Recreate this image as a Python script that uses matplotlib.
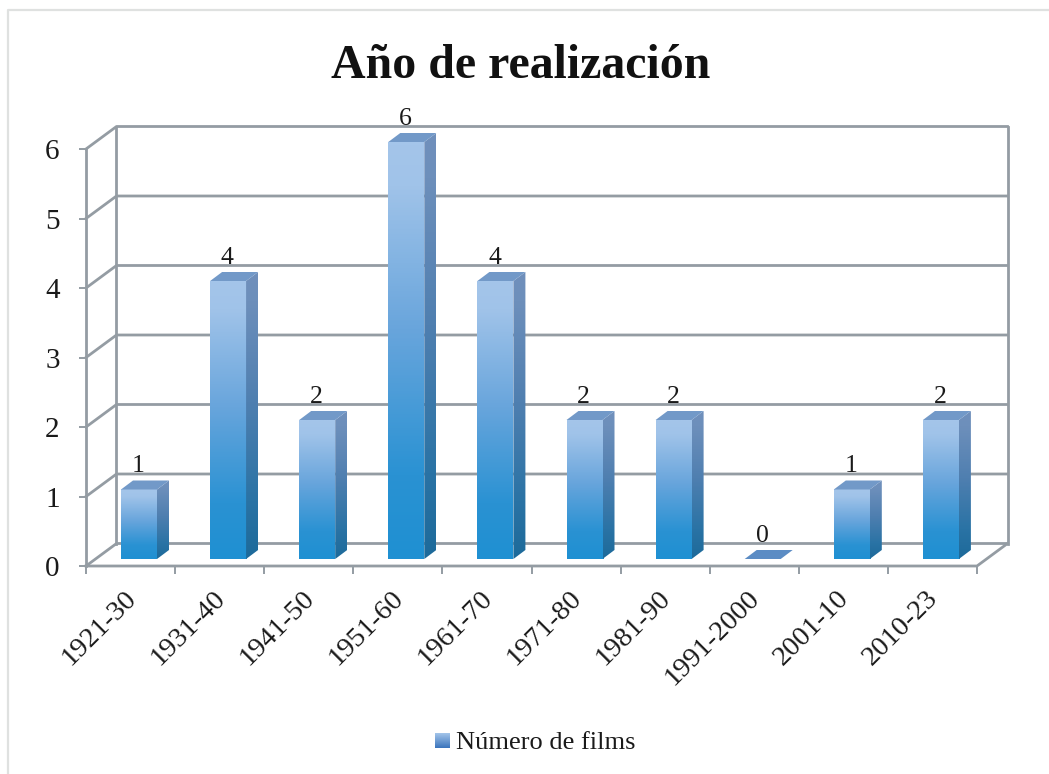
import numpy as np
import matplotlib
matplotlib.use("Agg")
import matplotlib.pyplot as plt
from matplotlib.patches import Polygon
from matplotlib.colors import LinearSegmentedColormap

categories = ["1921-30", "1931-40", "1941-50", "1951-60", "1961-70",
              "1971-80", "1981-90", "1991-2000", "2001-10", "2010-23"]
values = [1, 4, 2, 6, 4, 2, 2, 0, 1, 2]
yticks = [0, 1, 2, 3, 4, 5, 6]
title = "Año de realización"
legend_label = "Número de films"

W, H = 1049, 774
plt.rcParams['font.family'] = ['Liberation Serif', 'DejaVu Serif']
fig = plt.figure(figsize=(W / 100, H / 100), dpi=100)

# plot axes: front plane from x=86..977 px, y=566..149 px
L, R, B, T = 86, 977, 566, 149
ax = fig.add_axes([L / W, 1 - B / H, (R - L) / W, (B - T) / H])
ax.set_xlim(0, len(categories))
ax.set_ylim(0, 6)
ax.patch.set_visible(False)
for s in ax.spines.values():
    s.set_visible(False)
ux = (R - L) / len(categories)
uy = (B - T) / 6
DX, DY = 30.5 / ux, 22.5 / uy  # depth of the wall in data units
GRID = '#949ca3'
LW = 2.0

lk = dict(color=GRID, lw=LW, clip_on=False, solid_capstyle='projecting', zorder=1)
n = len(categories)
for v in yticks:
    ax.plot([0, DX, n + DX], [v, v + DY, v + DY], **lk)
ax.plot([0, 0], [0, 6], **lk)
ax.plot([DX, DX], [DY, 6 + DY], **lk)
ax.plot([n + DX, n + DX], [DY, 6 + DY], **lk)
ax.plot([0, n, n + DX], [0, 0, DY], **lk)

ax.set_xticks(range(n + 1))
ax.set_xticklabels([])
ax.set_yticks(yticks)
ax.set_yticklabels([str(v) for v in yticks], fontsize=21, color='#1a1a1a')
ax.tick_params(axis='both', length=7.5 * 0.72, width=1.4, color=GRID, pad=13.5)
for i, c in enumerate(categories):
    ax.annotate(c, xy=(i + 0.5, 0), xytext=(-5, -14), textcoords='offset points',
                rotation=45, ha='right', va='top', rotation_mode='anchor',
                fontsize=20.5, color='#1a1a1a', annotation_clip=False)

front = LinearSegmentedColormap.from_list('f', [(0, '#1f90d2'), (0.2, '#2a92d3'), (0.55, '#68a5dc'),
                                                (0.9, '#a0c3e9'), (1, '#a4c5ea')])
side = LinearSegmentedColormap.from_list('s', [(0, '#1d6a9a'), (0.2, '#2a73a5'), (0.55, '#4f7fb0'),
                                               (0.9, '#6d8fbb'), (1, '#7090bc')])
grad = np.linspace(1, 0, 128).reshape(-1, 1)

BW = 36 / ux
OX = 35 / ux     # left edge of a bar within its slot
OY = 7 / uy      # lift of bar base above the front floor edge
SX, SY = 12 / ux, 9 / uy  # bar depth
for i, v in enumerate(values):
    x0 = i + OX
    x1 = x0 + BW
    y0 = OY
    y1 = OY + v
    if v > 0:
        im = ax.imshow(grad, extent=(x0, x1, y0, y1), cmap=front, vmin=0, vmax=1,
                       aspect='auto', zorder=3, interpolation='bilinear')
        im.set_clip_on(False)
        im = ax.imshow(grad, extent=(x1, x1 + SX, y0, y1 + SY), cmap=side, vmin=0, vmax=1,
                       aspect='auto', zorder=3, interpolation='bilinear')
        p = Polygon([(x1, y0), (x1 + SX, y0 + SY), (x1 + SX, y1 + SY), (x1, y1)],
                    transform=ax.transData, fc='none', ec='none', clip_on=False)
        ax.add_patch(p)
        im.set_clip_path(p)
        im.set_clip_box(fig.bbox)
    ax.add_patch(Polygon([(x0, y1), (x1, y1), (x1 + SX, y1 + SY), (x0 + SX, y1 + SY)],
                         fc='#7299c8' if v > 0 else '#5b8cc4', ec='none', zorder=4, clip_on=False))
    ax.annotate(str(v), xy=(x0 + BW / 2, y1 + SY), xytext=(-0.5, 2.5),
                textcoords='offset points', ha='center', va='bottom',
                fontsize=18.5, color='#1a1a1a', zorder=5, annotation_clip=False)
ax.set_xlim(0, n)
ax.set_ylim(0, 6)

# figure-level decoration, in pixel coordinates
deco = fig.add_axes([0, 0, 1, 1], zorder=-1)
deco.set_xlim(0, W)
deco.set_ylim(H, 0)
deco.axis('off')
deco.plot([8, 8, W], [H, 10, 10], color='#dfe1e0', lw=1.6)

fig.text(521 / W, 1 - 66 / H, title, ha='center', va='center',
         fontsize=34.5, fontweight='bold', color='#111111')

lax = fig.add_axes([435 / W, 1 - 748 / H, 15 / W, 15 / H])
lax.imshow(grad, cmap=LinearSegmentedColormap.from_list('l', ['#3a74bc', '#a4c5ea']),
           vmin=0, vmax=1, aspect='auto')
lax.axis('off')
fig.text(456 / W, 1 - 743 / H, legend_label, ha='left', va='center',
         fontsize=19, color='#1a1a1a')

fig.savefig('out.png', dpi=100)
